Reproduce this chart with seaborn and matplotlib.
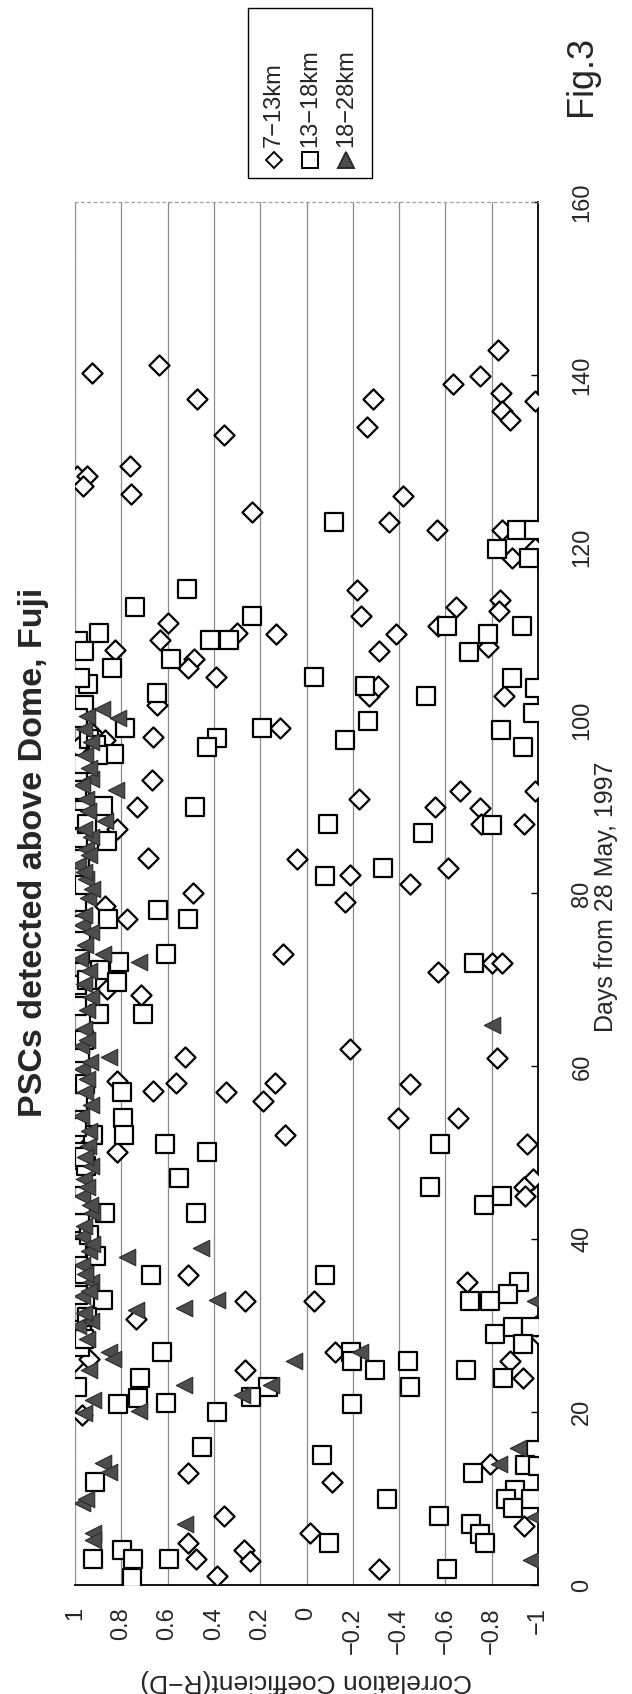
import matplotlib
matplotlib.use("Agg")
import matplotlib.pyplot as plt
from matplotlib.lines import Line2D
from matplotlib.patches import Rectangle
import seaborn as sns
import pandas as pd

# ---------------- data (correlation coefficient, day from 28 May 1997) ----------------
corr_7_13 = [0.928, 0.635, 0.472, 0.358, 0.763, -0.289, -0.263, -0.632, -0.749, -0.828, -0.842, -0.843, -0.880, -0.989,
             0.99, 0.948, 0.967, 0.758, 0.237, -0.415, -0.358, -0.565, -0.22, -0.646, -0.835, -0.83, -0.846, -0.889, -0.985,
             0.6, 0.631, 0.485, 0.51, 0.3, 0.131, 0.392, 0.826, 0.646, -0.235, -0.385, -0.312, -0.57, -0.782, -0.269, -0.31,
             -0.854, 0.115, 0.662, 0.923, 0.869,
             0.985, 0.669, 0.731, 0.685, -0.226, -0.662, -0.554, -0.749, -0.985, -0.938, -0.755, 0.043, -0.188, -0.611,
             -0.446, 0.489, 0.82,
             -0.165, 0.777, 0.87, 0.103, -0.569, -0.803, -0.846, 0.715, 0.862,
             0.523, -0.188, -0.823, 0.562, 0.665, 0.818, 0.346, 0.134, 0.188, -0.446, -0.397, -0.654, 0.092, -0.954, 0.818, 0.99,
             -0.977, -0.938, -0.946, 0.511, -0.692, 0.265, -0.031,
             0.738, 0.265, -0.123, 0.999, 0.938, 0.97, -0.877, -0.935, -1.0, -0.99,
             0.511, -0.111, 0.357, -0.015, 0.511, 0.477, 0.272, 0.246, 0.385, -0.312, -0.792, -0.938]
day_7_13 = [140.2, 141.2, 137.2, 133.1, 129.4, 137.2, 134.0, 138.9, 139.9, 142.9, 137.9, 135.8, 134.8, 137.0,
            128.3, 128.3, 127.1, 126.2, 124.1, 126.0, 123.0, 122.0, 115.1, 113.2, 114.0, 112.7, 122.1, 118.8, 120.0,
            111.3, 109.3, 107.1, 106.1, 110.1, 110.0, 105.0, 108.2, 101.8, 112.1, 110.0, 108.0, 110.9, 108.5, 102.8, 104.0,
            102.9, 99.1, 98.1, 98.4, 97.8,
            97.0, 93.1, 90.0, 84.1, 90.9, 91.9, 90.0, 89.9, 91.9, 88.0, 88.0, 84.0, 82.1, 83.0,
            81.1, 80.1, 87.5,
            79.0, 77.1, 78.6, 73.0, 70.9, 72.0, 72.0, 68.2, 68.9,
            61.1, 62.0, 61.0, 58.1, 57.1, 58.3, 57.0, 58.1, 56.0, 58.0, 54.0, 54.0, 52.1, 51.0, 50.1, 52.0,
            47.0, 46.1, 45.0, 35.9, 35.0, 32.8, 32.8,
            30.8, 24.9, 26.9, 25.9, 26.1, 19.7, 25.9, 23.9, 29.0, 30.0,
            13.0, 11.9, 8.0, 6.0, 4.9, 3.0, 4.0, 2.8, 1.0, 1.9, 14.0, 6.8]

corr_13_18 = [-0.12, -0.908, -0.982, -0.823, -0.962, 0.518, 0.742, 0.235,
              0.985, 0.895, 0.962, 0.842, 0.946, 0.977, 0.96, 0.985, 0.785, 0.94, 0.91, 0.646, 0.585, 0.418, 0.334,
              -0.031, -0.254, -0.517, -0.605, -0.782, -0.70, -0.931, -0.889, -0.985, -0.98, -0.842, -0.935, -0.266,
              -0.165, 0.192, 0.385, 0.431,
              0.831, 0.9, 0.985, 0.877, 0.977, 0.977, 0.862, 0.985, 0.482, -0.095, -0.503, -0.803, -0.082, -0.332,
              0.858, 0.642, 0.512, 0.605, 0.808, 0.892, 0.818, 0.98, 0.977, 0.895, 0.705, -0.723, 0.99,
              0.797, 0.792, 0.789, 0.923, 0.612, 0.431, -0.577, 0.985, 0.985, 0.97,
              0.549, -0.535, -0.766, -0.846, 0.477, 0.869, 0.908, 0.672, -0.082, -0.92, -0.708, -0.792, -0.87,
              0.985, 0.977, 0.985, 0.877, 0.954,
              0.623, 0.72, 0.726, 0.815, 0.608, 0.385, 0.992, 0.166, 0.238, -0.192, -0.197, -0.295, -0.438, -0.449,
              -0.197, -0.689, -0.815, -0.892, -0.969, -0.935, -0.849, 0.451, -0.069, -0.992,
              -0.946, -1.0, -0.72, 0.915, -0.349, -0.9, -0.862, -0.969, -0.892, -0.572, -0.712, -0.749, -0.772, -0.097,
              0.923, 0.795, 0.749, 0.754, 0.595, -0.608,
              0.97, 0.95, 0.985, 0.96, 0.99, 0.94, 0.975, 0.96, 0.99, 0.955, 0.98, 0.96, 0.99, 0.95, 0.975, 0.99,
              0.96, 0.98, 0.95, 0.99, 0.965, 0.98, 0.96]
day_13_18 = [123.0, 122.0, 122.0, 119.8, 118.8, 115.2, 113.1, 112.1,
             109.2, 110.1, 108.0, 106.1, 104.2, 104.9, 101.8, 100.3, 99.1, 97.9, 97.2, 103.2, 107.1, 109.3, 109.3,
             105.0, 104.0, 102.9, 110.9, 110.0, 107.9, 110.9, 104.9, 103.8, 100.9, 98.9, 96.9, 100.0,
             97.8, 99.1, 98.0, 97.0,
             96.1, 96.0, 94.1, 90.1, 91.8, 88.6, 86.1, 86.4, 90.0, 88.0, 87.0, 87.9, 82.0, 83.0,
             77.1, 78.1, 77.0, 73.0, 72.1, 71.2, 69.8, 73.0, 76.3, 66.1, 66.1, 72.0, 69.4,
             57.0, 54.0, 52.1, 52.1, 51.0, 50.1, 51.0, 55.9, 59.7, 50.1,
             47.1, 46.0, 44.0, 45.0, 43.0, 43.0, 38.1, 35.9, 35.9, 35.0, 32.9, 32.9, 33.7,
             47.1, 41.9, 34.6, 33.0, 48.5,
             26.9, 24.0, 21.6, 20.9, 21.0, 20.0, 22.9, 22.9, 21.8, 26.9, 25.9, 24.9, 25.9, 22.9,
             20.9, 24.9, 29.0, 29.9, 29.9, 27.9, 23.9, 16.0, 15.0, 15.6,
             13.9, 13.8, 12.9, 11.9, 9.9, 11.0, 9.9, 9.9, 8.9, 8.0, 7.0, 5.9, 4.9, 4.9,
             3.0, 4.0, 3.0, 0.8, 3.0, 1.9,
             29.5, 31.0, 33.5, 36.0, 39.0, 40.5, 44.0, 49.5, 53.0, 58.0, 61.5, 63.0, 67.0, 70.0, 74.5, 79.0,
             81.0, 84.0, 88.0, 92.0, 95.0, 27.5, 28.5]

corr_18_28 = [0.885, 0.815, 0.823, 0.93, 0.954, 0.87, 0.954, 0.985, 0.954, 0.723, 0.877, 0.977, 0.97, -0.8,
              0.854, 0.96, 0.975, 0.97, 0.955, 0.975, 0.945, 0.454, 0.777, -0.985, 0.385, 0.531, 0.735,
              0.96, 0.97, 0.925, 0.97, 0.94, 0.97, 0.93, 0.97, 0.854, 0.838, 0.054, -0.231, 0.531, 0.154, 0.277,
              0.723, 0.938, 0.923, 0.96, 0.985, -0.915, 0.877, 0.854, 0.97, 0.954, 0.923, 0.923, 0.523, -0.831,
              -0.985, -0.969,
              0.95, 0.93, 0.96, 0.94, 0.955, 0.93, 0.96, 0.945, 0.925, 0.96, 0.94, 0.93, 0.96, 0.945, 0.97, 0.94,
              0.955, 0.93, 0.96, 0.95,
              0.95, 0.93, 0.96, 0.94, 0.955, 0.925, 0.96, 0.935, 0.95, 0.93, 0.955, 0.94, 0.93, 0.95, 0.935, 0.95]
day_18_28 = [101.3, 100.3, 92.0, 93.2, 90.9, 88.4, 85.2, 83.3, 81.7, 72.1, 73.0, 72.4, 76.3, 64.8,
             61.1, 64.3, 62.4, 59.7, 57.0, 54.3, 50.8, 39.0, 38.0, 32.8, 33.0, 32.1, 31.8,
             47.0, 45.0, 43.0, 40.4, 38.6, 37.0, 35.0, 33.4, 27.0, 26.1, 25.9, 27.0, 23.1, 23.1, 22.0,
             20.1, 24.9, 21.4, 19.9, 30.0, 15.8, 14.1, 13.1, 9.5, 10.0, 6.0, 5.2, 7.0, 14.0,
             7.9, 2.9,
             66.5, 68.0, 69.5, 71.0, 74.0, 75.5, 77.5, 79.5, 80.5, 82.5, 84.5, 86.5, 87.5, 89.5, 92.5, 94.5,
             96.0, 97.5, 99.0, 100.5,
             28.5, 30.5, 31.5, 34.0, 36.0, 39.5, 41.5, 44.0, 46.0, 48.5, 49.5, 52.5, 55.5, 58.5, 60.5, 63.0]

layers = ["7\u221213km", "13\u221218km", "18\u221228km"]
corr_ticks = [1, 0.8, 0.6, 0.4, 0.2, 0, -0.2, -0.4, -0.6, -0.8, -1]
corr_tick_labels = ["1", "0.8", "0.6", "0.4", "0.2", "0", "\u22120.2", "\u22120.4", "\u22120.6", "\u22120.8", "\u22121"]
day_ticks = [0, 20, 40, 60, 80, 100, 120, 140, 160]

df = pd.concat([
    pd.DataFrame({"corr": corr_7_13, "day": day_7_13, "layer": layers[0]}),
    pd.DataFrame({"corr": corr_13_18, "day": day_13_18, "layer": layers[1]}),
    pd.DataFrame({"corr": corr_18_28, "day": day_18_28, "layer": layers[2]}),
], ignore_index=True)

# ---------------- styling ----------------
sns.set_theme(style="white")
plt.rcParams['font.family'] = ['Liberation Sans', 'DejaVu Sans']

W, H = 632, 1694
L, R, T, B = 75, 538, 202, 1585
fig = plt.figure(figsize=(W / 100, H / 100), dpi=100)
ax = fig.add_axes([L / W, 1 - B / H, (R - L) / W, (B - T) / H])

TRI = "#4d4d4d"
styles = {
    layers[0]: dict(marker="D", s=105, color="white", edgecolor="black", linewidth=1.6, zorder=3),
    layers[1]: dict(marker="s", s=175, color="white", edgecolor="black", linewidth=1.6, zorder=4),
    layers[2]: dict(marker="<", s=140, color=TRI, edgecolor="#2a2a2a", linewidth=0.8, zorder=5),
}
for lay in layers:
    sns.scatterplot(data=df[df["layer"] == lay], x="corr", y="day", ax=ax, legend=False, **styles[lay])

ax.set_xlim(1, -1)
ax.set_ylim(0, 160)
ax.set_xticks(corr_ticks)
ax.set_xticklabels(corr_tick_labels, rotation=90, va="top", ha="center", fontsize=17)
ax.set_yticks(day_ticks)
ax.yaxis.tick_right()
ax.set_yticklabels([str(d) for d in day_ticks], rotation=90, va="center", ha="left", fontsize=17)
ax.tick_params(axis="x", length=0, pad=16)
ax.tick_params(axis="y", direction="in", length=5, width=1, color="black", pad=24, right=True, left=False)
ax.grid(axis="x", color="#8c8c8c", linewidth=0.9)
ax.grid(axis="y", visible=False)
ax.set_xlabel("")
ax.set_ylabel("")
for side in ["bottom", "right"]:
    ax.spines[side].set_color("black")
    ax.spines[side].set_linewidth(1.3)
for side in ["top", "left"]:
    ax.spines[side].set_color("#a0a0a0")
    ax.spines[side].set_linewidth(0.9)
    ax.spines[side].set_linestyle((0, (2, 3)))

# axis titles (figure rotated by 90 degrees)
fig.text((L + R) / 2 / W, 1 - 1681 / H, "Correlation Coefficient(R\u2212D)", rotation=180,
         ha="center", va="center", fontsize=19)
fig.text(606 / W, 1 - 897 / H, "Days from 28 May, 1997", rotation=90, ha="center", va="center", fontsize=18)
fig.text(34 / W, 1 - 852 / H, "PSCs detected above Dome, Fuji", rotation=90, ha="center", va="center",
         fontsize=24.5, fontweight="bold")
fig.text(582 / W, 1 - 76 / H, "Fig.3", rotation=90, ha="center", va="center", fontsize=26)

# legend (rotated)
lx0, ly0, lx1, ly1 = 248, 8, 372, 178
fig.add_artist(Rectangle((lx0 / W, 1 - ly1 / H), (lx1 - lx0) / W, (ly1 - ly0) / H, transform=fig.transFigure,
                         facecolor="white", edgecolor="black", linewidth=1.0))
leg_marks = [("D", 8.5, "white", "black"), ("s", 12, "white", "black"), ("^", 11, TRI, "#2a2a2a")]
for i, (lay, (mk, ms, fc, ec)) in enumerate(zip(layers, leg_marks)):
    x = (lx0 + 26 + i * 36) / W
    fig.add_artist(Line2D([x], [1 - 160 / H], marker=mk, markersize=ms, markerfacecolor=fc,
                          markeredgecolor=ec, markeredgewidth=1.4, linestyle="none", transform=fig.transFigure))
    fig.text(x, 1 - 147 / H, lay, rotation=90, ha="center", va="bottom", fontsize=17)

fig.savefig("out.png", dpi=100)
